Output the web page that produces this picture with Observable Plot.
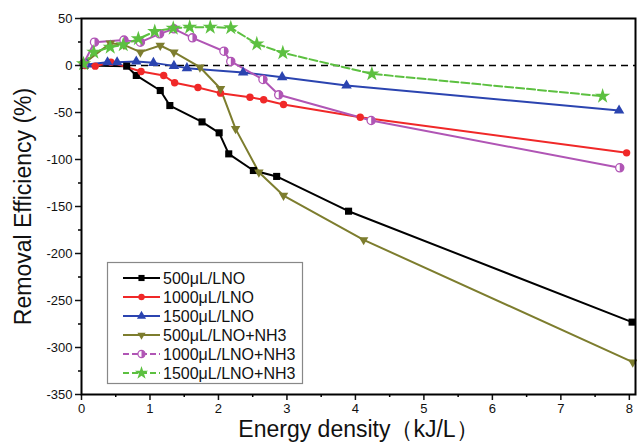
<!DOCTYPE html>
<html><head><meta charset="utf-8">
<script src="https://cdn.jsdelivr.net/npm/d3@7"></script>
<script src="https://cdn.jsdelivr.net/npm/@observablehq/plot@0.6"></script>
<style>
body{margin:0;background:#fff;font-family:"Liberation Sans",Arial,sans-serif;}
#chart{position:relative;width:637px;height:445px;overflow:hidden;}
</style></head>
<body><div id="chart"></div>
<script>
const seriesNames = ["500μL/LNO","1000μL/LNO","1500μL/LNO","500μL/LNO+NH3","1000μL/LNO+NH3","1500μL/LNO+NH3"];
const seriesColors = ["#000000","#f02828","#2b44b0","#7d7d2e","#b055b5","#5cc040"];

const energy500 = [0.05, 0.66, 0.80, 1.15, 1.29, 1.76, 2.01, 2.15, 2.51, 2.85, 3.90, 8.04];
const eff500    = [0, -0.7, -10.6, -26.6, -42.6, -60, -71.6, -94, -111.7, -118, -155, -273];

const energy1000 = [0.05, 0.20, 0.43, 0.87, 1.20, 1.36, 1.70, 2.03, 2.46, 2.66, 2.95, 4.07, 7.96];
const eff1000    = [0, -0.7, 3.5, -6.4, -10.6, -18.4, -23.4, -29.4, -33.7, -36.5, -41.5, -55, -92.9];

const energy1500 = [0.08, 0.38, 0.52, 0.80, 1.05, 1.35, 1.54, 2.36, 2.93, 3.87, 7.85];
const eff1500    = [1, 3.5, 3.5, 4.3, 2.8, -0.4, -2.8, -7.4, -12.4, -21.3, -47.9];

const energy500N = [0.03, 0.42, 0.62, 0.86, 1.15, 1.35, 1.73, 2.03, 2.25, 2.59, 2.95, 4.12, 8.05];
const eff500N    = [2, 23.7, 22, 14.2, 21.3, 14.2, -1.8, -24.8, -67.4, -113.5, -138.3, -185.5, -315.6];

const energy1000N = [0.03, 0.19, 0.62, 0.86, 1.14, 1.35, 1.62, 2.08, 2.18, 2.65, 2.88, 4.23, 7.86];
const eff1000N    = [2, 24.8, 27, 24.8, 33.7, 39, 29.4, 15.2, 4.3, -14.9, -31.2, -58.5, -108.8];

const energy1500N = [0.03, 0.18, 0.42, 0.61, 0.83, 1.07, 1.34, 1.58, 1.88, 2.18, 2.56, 2.94, 4.24, 7.61];
const eff1500N    = [1.8, 14.2, 19.5, 22, 28.4, 36.2, 39.7, 40.8, 40.8, 40.1, 23, 13.5, -8.9, -32.6];

const xMajor = [0,1,2,3,4,5,6,7,8];
const xMinor = [0.5,1.5,2.5,3.5,4.5,5.5,6.5,7.5];
const yMajor = [50,0,-50,-100,-150,-200,-250,-300,-350];
const yMinor = [25,-25,-75,-125,-175,-225,-275,-325];

const xLabel = "Energy density（kJ/L）";
const yLabel = "Removal Efficiency (%)";

const triDown = {draw(ctx, size){const y = Math.sqrt(size/(3*Math.sqrt(3))); const x = y*Math.sqrt(3); ctx.moveTo(0, 2*y*0.8); ctx.lineTo(x*0.8, -y*0.8); ctx.lineTo(-x*0.8, -y*0.8); ctx.closePath();}};
const halfRight = {draw(ctx, size){const r = Math.sqrt(size/Math.PI); ctx.moveTo(0,-r); ctx.arc(0,0,r,-Math.PI/2,Math.PI/2); ctx.closePath();}};

const seriesX = [energy500, energy1000, energy1500, energy500N, energy1000N, energy1500N];
const seriesY = [eff500, eff1000, eff1500, eff500N, eff1000N, eff1500N];
const symbols = [d3.symbolSquare, d3.symbolCircle, d3.symbolTriangle, triDown, d3.symbolCircle, d3.symbolStar];
const radii = [4.0, 3.7, 3.9, 4.4, 4.1, 4.8];
const dashes = [null, null, null, null, null, "8,3"];

const tables = seriesX.map((xs, i) => xs.map((x, j) => ({x, y: seriesY[i][j]})));

const marks = [
  Plot.ruleY([0], {stroke: "#000", strokeWidth: 1.4, strokeDasharray: "7,5"})
];
tables.forEach((t, i) => {
  marks.push(Plot.line(t, {x: "x", y: "y", stroke: seriesColors[i], strokeWidth: 2, strokeDasharray: dashes[i]}));
});
tables.forEach((t, i) => {
  if (i === 4) {
    marks.push(Plot.dot(t, {x: "x", y: "y", r: radii[i], symbol: "circle", fill: "#fff", stroke: seriesColors[i], strokeWidth: 1.3}));
    marks.push(Plot.dot(t, {x: "x", y: "y", r: radii[i], symbol: halfRight, fill: seriesColors[i]}));
  } else {
    marks.push(Plot.dot(t, {x: "x", y: "y", r: radii[i], symbol: symbols[i], fill: seriesColors[i]}));
  }
});
const fmt = d => String(d);
marks.push(
  Plot.axisX(xMajor, {tickSize: 6, tickPadding: 3, fontSize: 13, tickFormat: fmt, label: null, strokeWidth: 1.5, color: "#111"}),
  Plot.axisX(xMinor, {tickSize: 3, tickFormat: () => "", label: null, strokeWidth: 1.5}),
  Plot.axisY(yMajor, {tickSize: 6, tickPadding: 3, fontSize: 13, tickFormat: fmt, label: null, strokeWidth: 1.5, color: "#111"}),
  Plot.axisY(yMinor, {tickSize: 3, tickFormat: () => "", label: null, strokeWidth: 1.5}),
  Plot.frame({stroke: "#000", strokeWidth: 2}),
  Plot.text([xLabel], {frameAnchor: "bottom", textAnchor: "middle", dy: 42, fontSize: 23, fill: "#111"}),
  Plot.text([yLabel], {frameAnchor: "left", textAnchor: "middle", dx: -58, rotate: -90, fontSize: 23, fill: "#111"})
);

const chart = Plot.plot({
  width: 637, height: 445,
  marginLeft: 81, marginRight: 2, marginTop: 18, marginBottom: 51,
  x: {domain: [0, 8.09]},
  y: {domain: [-350, 50]},
  style: {fontFamily: "Liberation Sans, Arial, sans-serif", background: "#fff"},
  marks
});
document.getElementById("chart").appendChild(chart);

// Legend inside the plot area
const svg = d3.select(chart);
const lg = svg.append("g").attr("class", "legend").attr("text-anchor", "start");
lg.append("rect").attr("x", 107.5).attr("y", 262.5).attr("width", 195).attr("height", 121)
  .attr("fill", "#fff").attr("stroke", "#888").attr("stroke-width", 1.2);
seriesNames.forEach((name, i) => {
  const cy = 278 + i * 19;
  const g = lg.append("g");
  g.append("line").attr("x1", 123).attr("x2", 160).attr("y1", cy).attr("y2", cy)
    .attr("stroke", seriesColors[i]).attr("stroke-width", 2)
    .attr("stroke-dasharray", i >= 4 ? "6,3" : null);
  const area = Math.PI * radii[i] * radii[i] * 0.75;
  if (i === 4) {
    g.append("path").attr("d", d3.symbol().type(d3.symbolCircle).size(area)()).attr("transform", `translate(141.5,${cy})`)
      .attr("fill", "#fff").attr("stroke", seriesColors[i]).attr("stroke-width", 1.2);
    g.append("path").attr("d", d3.symbol().type(halfRight).size(area)()).attr("transform", `translate(141.5,${cy})`)
      .attr("fill", seriesColors[i]);
  } else {
    g.append("path").attr("d", d3.symbol().type(symbols[i]).size(area)()).attr("transform", `translate(141.5,${cy})`)
      .attr("fill", seriesColors[i]);
  }
  g.append("text").attr("x", 163).attr("y", cy + 6).attr("font-size", 16).attr("fill", "#111")
    .attr("text-anchor", "start")
    .attr("font-family", "Liberation Sans, Arial, sans-serif").text(name);
});
</script>
</body></html>
